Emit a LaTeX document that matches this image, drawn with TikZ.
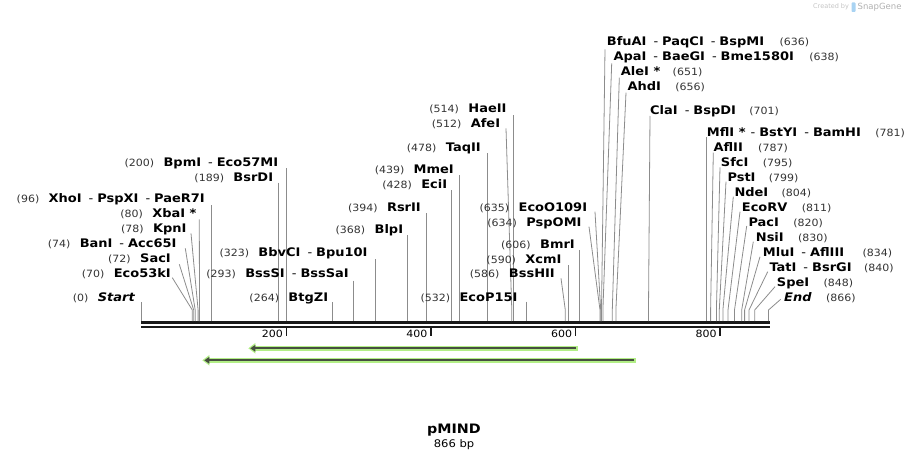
\documentclass[tikz,border=0pt]{standalone}
\usepackage{fontspec}
\setmainfont{DejaVu Sans}
\newfontfamily\enzfont[FakeStretch=1.1]{DejaVu Sans}
\newfontfamily\numfont[FakeStretch=1.1]{DejaVu Sans}
\usetikzlibrary{arrows.meta}
\definecolor{cutgray}{HTML}{8C8C8C}
\definecolor{numgray}{HTML}{333333}
\definecolor{halogreen}{HTML}{B2EE86}
\definecolor{featcore}{HTML}{464E40}
\definecolor{wmgray}{HTML}{C4C4C4}
\definecolor{wmblue}{HTML}{A9D3F2}
\newcommand{\dsh}{\hspace{7pt}{\mdseries -}\hspace{4pt}}

\begin{document}
\begin{tikzpicture}[x=1pt, y=-1pt,
    enz/.style={inner sep=0pt, font=\enzfont\fontsize{11.8}{12}\selectfont\bfseries},
    num/.style={inner sep=0pt, text=numgray, font=\numfont\fontsize{10}{10}\selectfont},
    lnum/.style={num, anchor=base east},
    rnum/.style={num, anchor=base west},
    cut/.style={cutgray, line width=0.8pt},
    bar/.style={black!90, line width=#1},
    tick/.style={black!90, line width=1.4pt},
    halo/.style={halogreen, line width=5.5pt, -{Triangle[length=7pt, width=10pt]}},
    core/.style={featcore, line width=2.3pt, -{Triangle[length=5pt, width=6.5pt]}}]
    \useasboundingbox (0,0) rectangle (911,460);

    % Sequence line
    \path (141,322.5) coordinate (seqL) (770,322.5) coordinate (seqR);
    \path (141,327) coordinate (seqL2) (770,327) coordinate (seqR2);
    \draw[bar=3.5pt] (seqL) -- (seqR);
    \draw[bar=2.3pt] (seqL2) -- (seqR2);
    \draw[tick] (286.3,328) -- (286.3,336);
    \draw[tick] (430.9,328) -- (430.9,336);
    \draw[tick] (575.5,328) -- (575.5,336);
    \draw[tick] (720.0,328) -- (720.0,336);
    \node[num, text=black, anchor=base east] (k200) at (283,337) {200};
    \node[num, text=black, anchor=base east] (k400) at (427.6,337) {400};
    \node[num, text=black, anchor=base east] (k600) at (572.2,337) {600};
    \node[num, text=black, anchor=base east] (k800) at (716.7,337) {800};

    % Left sites
    \node[enz, anchor=base east] (Start) at (135,301) {\itshape Start};
    \node[lnum] (n0) at ([xshift=-9pt]Start.base west) {(0)};
    \path (141.7,302) coordinate (t0) (141.7,321) coordinate (s0);
    \draw[cut] (t0) -- (s0);

    \node[enz, anchor=base east] (Eco53kI) at (171,277) {Eco53kI};
    \node[lnum] (n70) at ([xshift=-9pt]Eco53kI.base west) {(70)};
    \path (172.3,277.7) coordinate (t70) (192.3,310) coordinate (b70) (192.3,321) coordinate (s70);
    \draw[cut] (t70) -- (b70) -- (s70);

    \node[enz, anchor=base east] (SacI) at (171,262) {SacI};
    \node[lnum] (n72) at ([xshift=-9pt]SacI.base west) {(72)};
    \path (179.3,264.3) coordinate (t72) (193.7,310) coordinate (b72) (193.7,321) coordinate (s72);
    \draw[cut] (t72) -- (b72) -- (s72);

    \node[enz, anchor=base east] (BanI) at (176.7,247) {BanI\dsh Acc65I};
    \node[lnum] (n74) at ([xshift=-9pt]BanI.base west) {(74)};
    \path (185.3,248.3) coordinate (t74) (195.2,310) coordinate (b74) (195.2,321) coordinate (s74);
    \draw[cut] (t74) -- (b74) -- (s74);

    \node[enz, anchor=base east] (KpnI) at (186.7,232) {KpnI};
    \node[lnum] (n78) at ([xshift=-9pt]KpnI.base west) {(78)};
    \path (191,233.3) coordinate (t78) (198.1,310) coordinate (b78) (198.1,321) coordinate (s78);
    \draw[cut] (t78) -- (b78) -- (s78);

    \node[enz, anchor=base east] (XbaI) at (196.7,217) {XbaI *};
    \node[lnum] (n80) at ([xshift=-9pt]XbaI.base west) {(80)};
    \path (199.3,219.3) coordinate (t80) (199.5,310) coordinate (b80) (199.5,321) coordinate (s80);
    \draw[cut] (t80) -- (b80) -- (s80);

    \node[enz, anchor=base east] (XhoI) at (205,202) {XhoI\dsh PspXI\dsh PaeR7I};
    \node[lnum] (n96) at ([xshift=-9pt]XhoI.base west) {(96)};
    \path (211.1,205) coordinate (t96) (211.1,321) coordinate (s96);
    \draw[cut] (t96) -- (s96);

    % Middle sites
    \node[enz, anchor=base east] (BpmI) at (278.3,166) {BpmI\dsh Eco57MI};
    \node[lnum] (n200) at ([xshift=-9pt]BpmI.base west) {(200)};
    \path (286.3,168.3) coordinate (t200) (286.3,321) coordinate (s200);
    \draw[cut] (t200) -- (s200);

    \node[enz, anchor=base east] (BsrDI) at (273.3,181) {BsrDI};
    \node[lnum] (n189) at ([xshift=-9pt]BsrDI.base west) {(189)};
    \path (278.3,182.7) coordinate (t189) (278.3,321) coordinate (s189);
    \draw[cut] (t189) -- (s189);

    \node[enz, anchor=base east] (BbvCI) at (367.7,256) {BbvCI\dsh Bpu10I};
    \node[lnum] (n323) at ([xshift=-9pt]BbvCI.base west) {(323)};
    \path (375.2,259) coordinate (t323) (375.2,321) coordinate (s323);
    \draw[cut] (t323) -- (s323);

    \node[enz, anchor=base east] (BssSI) at (349,277) {BssSI\dsh BssSaI};
    \node[lnum] (n293) at ([xshift=-9pt]BssSI.base west) {(293)};
    \path (353.5,280.7) coordinate (t293) (353.5,321) coordinate (s293);
    \draw[cut] (t293) -- (s293);

    \node[enz, anchor=base east] (BtgZI) at (328.3,301) {BtgZI};
    \node[lnum] (n264) at ([xshift=-9pt]BtgZI.base west) {(264)};
    \path (332.5,302.3) coordinate (t264) (332.5,321) coordinate (s264);
    \draw[cut] (t264) -- (s264);

    \node[enz, anchor=base east] (BlpI) at (403.3,233) {BlpI};
    \node[lnum] (n368) at ([xshift=-9pt]BlpI.base west) {(368)};
    \path (407.7,235) coordinate (t368) (407.7,321) coordinate (s368);
    \draw[cut] (t368) -- (s368);

    \node[enz, anchor=base east] (RsrII) at (421,211) {RsrII};
    \node[lnum] (n394) at ([xshift=-9pt]RsrII.base west) {(394)};
    \path (426.5,213.3) coordinate (t394) (426.5,321) coordinate (s394);
    \draw[cut] (t394) -- (s394);

    \node[enz, anchor=base east] (EciI) at (447.3,188) {EciI};
    \node[lnum] (n428) at ([xshift=-9pt]EciI.base west) {(428)};
    \path (451.1,190) coordinate (t428) (451.1,321) coordinate (s428);
    \draw[cut] (t428) -- (s428);

    \node[enz, anchor=base east] (MmeI) at (454,173) {MmeI};
    \node[lnum] (n439) at ([xshift=-9pt]MmeI.base west) {(439)};
    \path (459.1,175) coordinate (t439) (459.1,321) coordinate (s439);
    \draw[cut] (t439) -- (s439);

    \node[enz, anchor=base east] (TaqII) at (481,151) {TaqII};
    \node[lnum] (n478) at ([xshift=-9pt]TaqII.base west) {(478)};
    \path (487.2,153.3) coordinate (t478) (487.2,321) coordinate (s478);
    \draw[cut] (t478) -- (s478);

    \node[enz, anchor=base east] (AfeI) at (500.3,128) {AfeI};
    \node[lnum] (n512) at ([xshift=-9pt]AfeI.base west) {(512)};
    \path (506,128.3) coordinate (t512) (511.8,310) coordinate (b512) (511.8,321) coordinate (s512);
    \draw[cut] (t512) -- (b512) -- (s512);

    \node[enz, anchor=base east] (HaeII) at (506.7,113) {HaeII};
    \node[lnum] (n514) at ([xshift=-9pt]HaeII.base west) {(514)};
    \path (513.3,115) coordinate (t514) (513.3,321) coordinate (s514);
    \draw[cut] (t514) -- (s514);

    \node[enz, anchor=base east] (EcoP15I) at (517.7,301) {EcoP15I};
    \node[lnum] (n532) at ([xshift=-9pt]EcoP15I.base west) {(532)};
    \path (526.3,301.7) coordinate (t532) (526.3,321) coordinate (s532);
    \draw[cut] (t532) -- (s532);

    \node[enz, anchor=base east] (BssHII) at (555,277) {BssHII};
    \node[lnum] (n586) at ([xshift=-9pt]BssHII.base west) {(586)};
    \path (561,278.3) coordinate (t586) (565.3,310) coordinate (b586) (565.3,321) coordinate (s586);
    \draw[cut] (t586) -- (b586) -- (s586);

    \node[enz, anchor=base east] (XcmI) at (561.7,263) {XcmI};
    \node[lnum] (n590) at ([xshift=-9pt]XcmI.base west) {(590)};
    \path (568.2,265) coordinate (t590) (568.2,321) coordinate (s590);
    \draw[cut] (t590) -- (s590);

    \node[enz, anchor=base east] (BmrI) at (575,248) {BmrI};
    \node[lnum] (n606) at ([xshift=-9pt]BmrI.base west) {(606)};
    \path (579.8,250) coordinate (t606) (579.8,321) coordinate (s606);
    \draw[cut] (t606) -- (s606);

    \node[enz, anchor=base east] (PspOMI) at (581.7,226) {PspOMI};
    \node[lnum] (n634) at ([xshift=-9pt]PspOMI.base west) {(634)};
    \path (589,226.7) coordinate (t634) (600,310) coordinate (b634) (600,321) coordinate (s634);
    \draw[cut] (t634) -- (b634) -- (s634);

    \node[enz, anchor=base east] (EcoO109I) at (587.3,211) {EcoO109I};
    \node[lnum] (n635) at ([xshift=-9pt]EcoO109I.base west) {(635)};
    \path (595,211.7) coordinate (t635) (600.7,310) coordinate (b635) (600.7,321) coordinate (s635);
    \draw[cut] (t635) -- (b635) -- (s635);

    % Right sites
    \node[enz, anchor=base west] (BfuAI) at (606.7,46) {BfuAI\dsh PaqCI\dsh BspMI};
    \node[rnum] (n636) at ([xshift=15pt]BfuAI.base east) {(636)};
    \path (605,49.3) coordinate (t636) (601.5,310) coordinate (b636) (601.5,321) coordinate (s636);
    \draw[cut] (t636) -- (b636) -- (s636);

    \node[enz, anchor=base west] (ApaI) at (613.3,61) {ApaI\dsh BaeGI\dsh Bme1580I};
    \node[rnum] (n638) at ([xshift=15pt]ApaI.base east) {(638)};
    \path (611.7,63.3) coordinate (t638) (602.9,310) coordinate (b638) (602.9,321) coordinate (s638);
    \draw[cut] (t638) -- (b638) -- (s638);

    \node[enz, anchor=base west] (AleI) at (620.7,76) {AleI *};
    \node[rnum] (n651) at ([xshift=12pt]AleI.base east) {(651)};
    \path (619.3,77.7) coordinate (t651) (612.3,310) coordinate (b651) (612.3,321) coordinate (s651);
    \draw[cut] (t651) -- (b651) -- (s651);

    \node[enz, anchor=base west] (AhdI) at (627.3,91) {AhdI};
    \node[rnum] (n656) at ([xshift=14pt]AhdI.base east) {(656)};
    \path (626,92.7) coordinate (t656) (615.9,310) coordinate (b656) (615.9,321) coordinate (s656);
    \draw[cut] (t656) -- (b656) -- (s656);

    \node[enz, anchor=base west] (ClaI) at (650,114) {ClaI\dsh BspDI};
    \node[rnum] (n701) at ([xshift=13pt]ClaI.base east) {(701)};
    \path (650,116) coordinate (t701) (648.5,310) coordinate (b701) (648.5,321) coordinate (s701);
    \draw[cut] (t701) -- (b701) -- (s701);

    \node[enz, anchor=base west] (MflI) at (706.7,136) {MflI *\hspace{5pt}{\mdseries -}\hspace{4pt}BstYI\dsh BamHI};
    \node[rnum] (n781) at ([xshift=14pt]MflI.base east) {(781)};
    \path (706.3,137.3) coordinate (t781) (706.3,321) coordinate (s781);
    \draw[cut] (t781) -- (s781);

    \node[enz, anchor=base west] (AflII) at (713.3,151) {AflII};
    \node[rnum] (n787) at ([xshift=15pt]AflII.base east) {(787)};
    \path (713.3,152.7) coordinate (t787) (710.6,310) coordinate (b787) (710.6,321) coordinate (s787);
    \draw[cut] (t787) -- (b787) -- (s787);

    \node[enz, anchor=base west] (SfcI) at (720.7,166) {SfcI};
    \node[rnum] (n795) at ([xshift=14pt]SfcI.base east) {(795)};
    \path (720,167.3) coordinate (t795) (716.4,310) coordinate (b795) (716.4,321) coordinate (s795);
    \draw[cut] (t795) -- (b795) -- (s795);

    \node[enz, anchor=base west] (PstI) at (727.3,181) {PstI};
    \node[rnum] (n799) at ([xshift=13pt]PstI.base east) {(799)};
    \path (726,181.7) coordinate (t799) (719.3,310) coordinate (b799) (719.3,321) coordinate (s799);
    \draw[cut] (t799) -- (b799) -- (s799);

    \node[enz, anchor=base west] (NdeI) at (734.3,196) {NdeI};
    \node[rnum] (n804) at ([xshift=13pt]NdeI.base east) {(804)};
    \path (733.3,196.7) coordinate (t804) (722.9,310) coordinate (b804) (722.9,321) coordinate (s804);
    \draw[cut] (t804) -- (b804) -- (s804);

    \node[enz, anchor=base west] (EcoRV) at (741.7,211) {EcoRV};
    \node[rnum] (n811) at ([xshift=14pt]EcoRV.base east) {(811)};
    \path (740,211.7) coordinate (t811) (728,310) coordinate (b811) (728,321) coordinate (s811);
    \draw[cut] (t811) -- (b811) -- (s811);

    \node[enz, anchor=base west] (PacI) at (748.3,226) {PacI};
    \node[rnum] (n820) at ([xshift=14pt]PacI.base east) {(820)};
    \path (746.7,226) coordinate (t820) (734.5,310) coordinate (b820) (734.5,321) coordinate (s820);
    \draw[cut] (t820) -- (b820) -- (s820);

    \node[enz, anchor=base west] (NsiI) at (755.7,241) {NsiI};
    \node[rnum] (n830) at ([xshift=14pt]NsiI.base east) {(830)};
    \path (753.3,241.7) coordinate (t830) (741.7,310) coordinate (b830) (741.7,321) coordinate (s830);
    \draw[cut] (t830) -- (b830) -- (s830);

    \node[enz, anchor=base west] (MluI) at (762.7,256) {MluI\dsh AflIII};
    \node[rnum] (n834) at ([xshift=18pt]MluI.base east) {(834)};
    \path (760,256.7) coordinate (t834) (744.6,310) coordinate (b834) (744.6,321) coordinate (s834);
    \draw[cut] (t834) -- (b834) -- (s834);

    \node[enz, anchor=base west] (TatI) at (769.3,271) {TatI\dsh BsrGI};
    \node[rnum] (n840) at ([xshift=12pt]TatI.base east) {(840)};
    \path (767.7,271.7) coordinate (t840) (749,310) coordinate (b840) (749,321) coordinate (s840);
    \draw[cut] (t840) -- (b840) -- (s840);

    \node[enz, anchor=base west] (SpeI) at (776.7,286) {SpeI};
    \node[rnum] (n848) at ([xshift=14pt]SpeI.base east) {(848)};
    \path (775,286.7) coordinate (t848) (754.7,310) coordinate (b848) (754.7,321) coordinate (s848);
    \draw[cut] (t848) -- (b848) -- (s848);

    \node[enz, anchor=base west] (End) at (784,301) {\itshape End};
    \node[rnum] (n866) at ([xshift=14pt]End.base east) {(866)};
    \path (780.7,299.3) coordinate (t866) (768.5,310) coordinate (b866) (768.5,321) coordinate (s866);
    \draw[cut] (t866) -- (b866) -- (s866);

    % Features
    \path (578,348.3) coordinate (f1t) (248.3,348.3) coordinate (f1h);
    \path (636,360.3) coordinate (f2t) (202.3,360.3) coordinate (f2h);
    \draw[halo] (f1t) -- (f1h);
    \draw[halo] (f2t) -- (f2h);
    \draw[core] ([xshift=-2pt]f1t) -- ([xshift=2pt]f1h);
    \draw[core] ([xshift=-2pt]f2t) -- ([xshift=2pt]f2h);

    % Title
    \node[font=\enzfont\fontsize{13}{14}\selectfont\bfseries] (title) at (454,430) {pMIND};
    \node[font=\numfont\fontsize{10.5}{11}\selectfont] (size) at (454,444.5) {866 bp};

    % Watermark
    \node[text=wmgray, font=\fontsize{6.5}{7}\selectfont, anchor=west, inner sep=0pt] (wm1) at (813,7) {Created by};
    \fill[wmblue, rounded corners=0.8pt] (851.5,2.5) rectangle (855.5,12);
    \node[text=wmgray!90!black, font=\fontsize{8.5}{9}\selectfont, anchor=west, inner sep=0pt] (wm2) at (857.5,7) {SnapGene};
\end{tikzpicture}
\end{document}
